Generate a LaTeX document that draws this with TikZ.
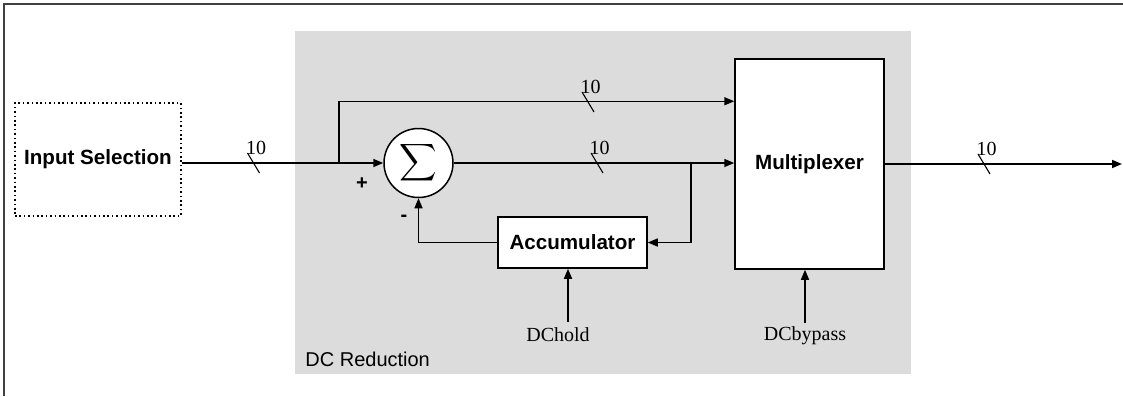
\documentclass[tikz,border=0pt]{standalone}
\usepackage{fontspec}
\setmainfont{Liberation Serif}
\setsansfont{Liberation Sans}
\usepackage{graphicx}
\usetikzlibrary{arrows.meta}
\definecolor{regiongray}{RGB}{220,220,220}

\tikzset{
  block/.style={draw, fill=white, line width=0.75pt, font=\sffamily\bfseries\fontsize{10.3}{12}\selectfont, inner sep=0pt},
  wire/.style={line width=0.75pt},
  arr/.style={wire, -{Triangle[length=5pt,width=4pt]}},
  sig/.style={font=\rmfamily, inner sep=0pt},
}
% bus width mark: slash on the wire and its label
\newcommand{\busmark}[2]{%
  \draw[line width=0.55pt] (#1) +(-6,-10) -- +(6,10);
  \path (#1) ++(2.5,-15) node[sig] (#2) {10};}

\begin{document}
\begin{tikzpicture}[x=0.5pt,y=-0.5pt]
      \useasboundingbox (0,0) rectangle (1123,396);
      \draw[line width=1pt, black!75] (4,396) -- (4,4) -- (1123,4);
      \fill[regiongray] (295,31) rectangle (911,374);
      \node[anchor=west, font=\sffamily, inner sep=0pt] (dcred) at (305,359) {DC Reduction};

      \node[block, fill=none, dash pattern=on 0.8pt off 1.4pt, line width=0.9pt,
            minimum width=83pt, minimum height=56.5pt] (insel) at (98,159.5) {Input Selection};
      \node[block, circle, minimum size=34.5pt] (sum) at (418.5,163) {\scalebox{1.3}{$\displaystyle\sum$}};
      \node[block, minimum width=74.5pt, minimum height=25.5pt] (accu) at (572.5,242.5) {Accumulator};
      \node[block, minimum width=74.5pt, minimum height=105pt] (mux) at (809.5,164) {Multiplexer};

      \coordinate (tap) at (339,163);
      \coordinate (fb) at (691,163);
      \coordinate (outend) at (1122,164);
      \coordinate (hold) at (568,322);

      \draw[wire] (insel.east |- sum.west) -- (tap);
      \draw[arr] (tap) -- (sum.west);
      \draw[arr] (tap) |- ([yshift=-21.5pt]mux.north west);
      \draw[arr] (sum.east) -- (mux.west |- sum.east);
      \draw[arr] (fb) |- (accu.east);
      \draw[arr] (accu.west) -| (sum.south);
      \draw[arr] (mux.east) -- (outend);

      \node[font=\sffamily\bfseries, inner sep=0pt] (plus) at (362,184) {+};
      \node[font=\sffamily\bfseries, inner sep=0pt] (minus) at (404,218) {-};

      \node[sig, anchor=base] (dchold) at (558,341) {DChold};
      \node[sig, anchor=base] (dcbypass) at (805,340) {DCbypass};
      \draw[arr] (hold) -- (hold |- accu.south);
      \draw[arr] ([yshift=1.5pt]dcbypass.north) -- (dcbypass.north |- mux.south);

      \coordinate (b1) at (253.5,163);
      \coordinate (b2) at (588,102);
      \coordinate (b3) at (597,163);
      \coordinate (b4) at (984,164);
      \busmark{b1}{w1}
      \busmark{b2}{w2}
      \busmark{b3}{w3}
      \busmark{b4}{w4}
\end{tikzpicture}
\end{document}
